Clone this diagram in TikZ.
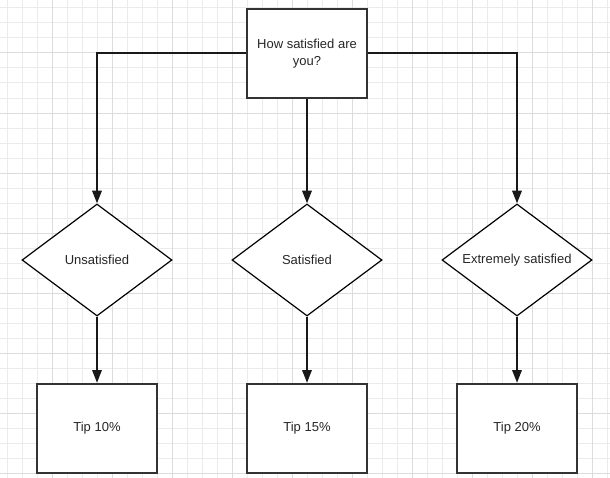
\documentclass[tikz,border=0pt]{standalone}
\usepackage{fontspec}
\setmainfont{Liberation Sans}
\usetikzlibrary{shapes.geometric,arrows.meta}
\definecolor{gridminor}{HTML}{EBEBEB}
\definecolor{gridmajor}{HTML}{DCDCDC}
\definecolor{stroke}{HTML}{333333}
\tikzset{
  boxnode/.style={draw=stroke, line width=1.5pt, fill=white, minimum width=90pt, minimum height=67pt, align=center, inner sep=0pt, font=\fontsize{9.75}{12.75}\selectfont, text=black!85},
  decnode/.style={draw=black, line width=0.9pt, fill=white, diamond, minimum width=112.5pt, minimum height=84pt, inner sep=0pt, aspect=1.34, font=\fontsize{9.75}{12.75}\selectfont, text=black!85},
  conn/.style={draw=black!90, line width=1.5pt},
  arr/.style={conn, -{Triangle[length=9.5pt,width=7pt]}}
}
\begin{document}
\begin{tikzpicture}[x=0.75pt,y=-0.75pt]
\useasboundingbox (0,0) rectangle (610,478);
\fill[white] (0,0) rectangle (610,478);
\foreach \x in {7.5,22.5,...,610} \draw[gridminor,line width=0.75pt] (\x,0) -- (\x,478);
\foreach \y in {8,23,...,478} \draw[gridminor,line width=0.75pt] (0,\y) -- (610,\y);
\foreach \x in {52.5,112.5,...,610} \draw[gridmajor,line width=0.75pt] (\x,0) -- (\x,478);
\foreach \y in {53,113,...,478} \draw[gridmajor,line width=0.75pt] (0,\y) -- (610,\y);

\node[boxnode] (q) at (307,53.5) {How satisfied are\\you?};
\node[decnode] (d1) at (97,260) {Unsatisfied};
\node[decnode] (d2) at (307,260) {Satisfied};
\node[decnode] (d3) at (517,260) {Extremely satisfied};
\node[boxnode] (t1) at (97,428.5) {Tip 10\%};
\node[boxnode] (t2) at (307,428.5) {Tip 15\%};
\node[boxnode] (t3) at (517,428.5) {Tip 20\%};

\draw[arr] (q.west) -| (d1.north);
\draw[arr] (q.south) -- (d2.north);
\draw[arr] (q.east) -| (d3.north);
\draw[arr] (d1.south) -- (t1.north);
\draw[arr] (d2.south) -- (t2.north);
\draw[arr] (d3.south) -- (t3.north);
\end{tikzpicture}
\end{document}
